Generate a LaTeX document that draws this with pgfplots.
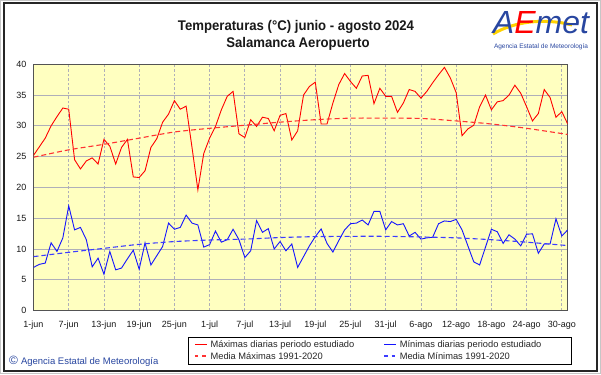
\documentclass[border=0pt]{standalone}
\usepackage{fontspec}
\setmainfont{Liberation Sans}
\newfontfamily\titlefont[FakeStretch=0.94]{Liberation Sans}
\usepackage{pgfplots}
\pgfplotsset{compat=1.18}
\usepackage{pgfplotstable}

\definecolor{bgyellow}{RGB}{255,255,192}
\definecolor{gridc}{RGB}{175,175,185}
\definecolor{maxred}{RGB}{255,0,0}
\definecolor{minblue}{RGB}{20,20,255}
\definecolor{meanred}{RGB}{255,50,50}
\definecolor{meanblue}{RGB}{60,60,255}
\definecolor{aemetblue}{RGB}{40,70,160}
\definecolor{aemetyellow}{RGB}{255,210,0}

\pgfplotstableread{
d tmax tmin
0 25.2 7.0
1 26.6 7.5
2 28.0 7.7
3 30.0 11.0
4 31.5 9.6
5 32.9 11.8
6 32.7 17.0
7 24.5 13.1
8 23.0 13.5
9 24.3 11.5
10 24.8 7.1
11 23.8 8.5
12 27.8 5.9
13 26.7 9.6
14 23.8 6.6
15 26.5 6.9
16 27.8 8.4
17 21.7 9.8
18 21.6 6.7
19 22.7 11.0
20 26.5 7.4
21 27.9 8.9
22 30.6 10.4
23 31.9 14.2
24 34.1 13.2
25 32.7 13.5
26 33.2 15.5
27 26.5 14.2
28 19.6 13.9
29 25.5 10.3
30 28.0 10.7
31 29.9 12.9
32 32.6 11.1
33 34.8 11.5
34 35.6 13.2
35 28.7 11.5
36 28.1 8.6
37 31.0 9.7
38 29.9 14.6
39 31.4 12.7
40 31.2 13.3
41 29.2 10.0
42 31.7 11.2
43 32.0 9.7
44 27.7 10.8
45 29.2 7.0
46 35.0 8.75
47 36.4 10.5
48 37.1 12.0
49 30.3 13.25
50 30.3 10.9
51 33.7 9.5
52 36.7 11.35
53 38.5 13.1
54 37.2 14.1
55 36.1 14.2
56 38.1 14.7
57 38.2 13.9
58 33.6 16.1
59 36.1 16.1
60 34.8 13.1
61 34.8 14.45
62 32.2 13.9
63 33.7 14.1
64 35.9 12.1
65 35.6 12.7
66 34.5 11.6
67 35.6 11.8
68 37.0 11.9
69 38.3 14.1
70 39.5 14.55
71 37.8 14.45
72 35.4 14.8
73 28.4 13.1
74 29.5 10.5
75 30.1 7.9
76 33.1 7.4
77 35.0 10.3
78 32.6 13.2
79 33.9 12.8
80 34.1 10.9
81 35.0 12.3
82 36.6 11.6
83 35.3 10.5
84 33.1 12.4
85 30.8 12.45
86 32.0 9.3
87 35.9 10.8
88 34.6 10.8
89 31.4 14.9
90 32.3 12.1
91 30.3 13.1
}\daily

\pgfplotstableread{
d mmax mmin
0 24.9 8.75
6 26.1 9.45
12 27.0 10.1
18 28.0 10.75
24 29.0 11.2
30 29.6 11.45
36 30.1 11.6
42 30.6 11.85
48 31.0 12.0
54 31.25 12.05
60 31.25 12.05
66 31.2 11.95
72 30.8 11.8
78 30.3 11.5
84 29.6 11.1
91 28.6 10.55
}\normals

\begin{document}
\begin{tikzpicture}[x=1pt,y=1pt]
\fill[white] (0,0) rectangle (601,374);
\draw[gray!45, line width=1pt] (0.5,0.5) rectangle (600.5,373.5);
\draw[black!85, line width=1.2pt] (4,3) rectangle (597,371);

% titles
\node[font=\titlefont\bfseries\fontsize{14}{16}\selectfont, text=black!90] at (296,347) {Temperaturas (°C) junio - agosto 2024};
\node[font=\titlefont\bfseries\fontsize{14}{16}\selectfont, text=black!90] at (298,330) {Salamanca Aeropuerto};

% logo
\draw[aemetyellow, line width=3pt] (493,340) .. controls (515,353) and (545,356) .. (572,349);
\node[font=\itshape\fontsize{32}{32}\selectfont, inner sep=0pt] at (541,351) {\textcolor{aemetblue}{A}\textcolor{red}{E}\textcolor{aemetblue}{met}};
\node[font=\fontsize{6.5}{7}\selectfont, text=aemetblue, inner sep=0pt] at (541,327) {Agencia Estatal de Meteorología};

% copyright
\node[anchor=west, font=\fontsize{9.5}{11}\selectfont, text=aemetblue, inner sep=0pt] at (9,13) {{\fontsize{12}{12}\selectfont\textcopyright}\hspace{3pt}Agencia Estatal de Meteorología};

\begin{axis}[
  at={(33.5pt,63.5pt)}, anchor=south west,
  scale only axis, width=534.2pt, height=246.2pt,
  xmin=0, xmax=91, ymin=0, ymax=40,
  axis background/.style={fill=bgyellow},
  xtick={0,6,...,90},
  xticklabels={1-jun,7-jun,13-jun,19-jun,25-jun,1-jul,7-jul,13-jul,19-jul,25-jul,31-jul,6-ago,12-ago,18-ago,24-ago,30-ago},
  ytick={0,5,...,40},
  major tick length=0pt,
  grid=major,
  x grid style={gridc, line width=0.8pt, dash pattern=on 2.5pt off 2pt},
  y grid style={gridc, line width=0.8pt},
  axis line style={draw=gray!65!black, line width=1.3pt},
  tick label style={font=\fontsize{9}{10}\selectfont, text=black!90},
  /pgf/number format/assume math mode=true,
  yticklabel style={xshift=-3.5pt},
  xticklabel style={yshift=-7pt},
  legend columns=2,
  legend cell align=left,
  legend style={at={(0.2892,-0.1076)}, anchor=north west, draw=black, line width=0.8pt,
    fill=white, inner xsep=6pt, inner ysep=2pt,
    font=\fontsize{9.3}{10}\selectfont, text=black!85,
    nodes={inner xsep=3pt, inner ysep=1.5pt},
    /tikz/every even column/.append style={column sep=5pt}},
]
\addplot[draw=maxred, line width=0.9pt,
  legend image code/.code={\draw[maxred, solid, line width=1.2pt] (0pt,0.4pt) -- (12pt,0.4pt);}] table[x=d, y=tmax] {\daily};
\addlegendentry{\makebox[165pt][l]{Máximas diarias periodo estudiado}}
\addplot[draw=minblue, line width=0.9pt,
  legend image code/.code={\draw[minblue, solid, line width=1.2pt] (0pt,0.4pt) -- (12pt,0.4pt);}] table[x=d, y=tmin] {\daily};
\addlegendentry{\makebox[163pt][l]{Mínimas diarias periodo estudiado}}
\addplot[draw=meanred, line width=1.1pt, dash pattern=on 5pt off 3pt, smooth,
  legend image code/.code={\draw[meanred, line width=1.2pt, dash pattern=on 3.5pt off 4pt] (0pt,0.4pt) -- (12pt,0.4pt);}] table[x=d, y=mmax] {\normals};
\addlegendentry{\makebox[165pt][l]{Media Máximas 1991-2020}}
\addplot[draw=meanblue, line width=1.1pt, dash pattern=on 5pt off 3pt, smooth,
  legend image code/.code={\draw[meanblue, line width=1.2pt, dash pattern=on 3.5pt off 4pt] (0pt,0.4pt) -- (12pt,0.4pt);}] table[x=d, y=mmin] {\normals};
\addlegendentry{\makebox[163pt][l]{Media Mínimas 1991-2020}}
\end{axis}
\end{tikzpicture}
\end{document}
